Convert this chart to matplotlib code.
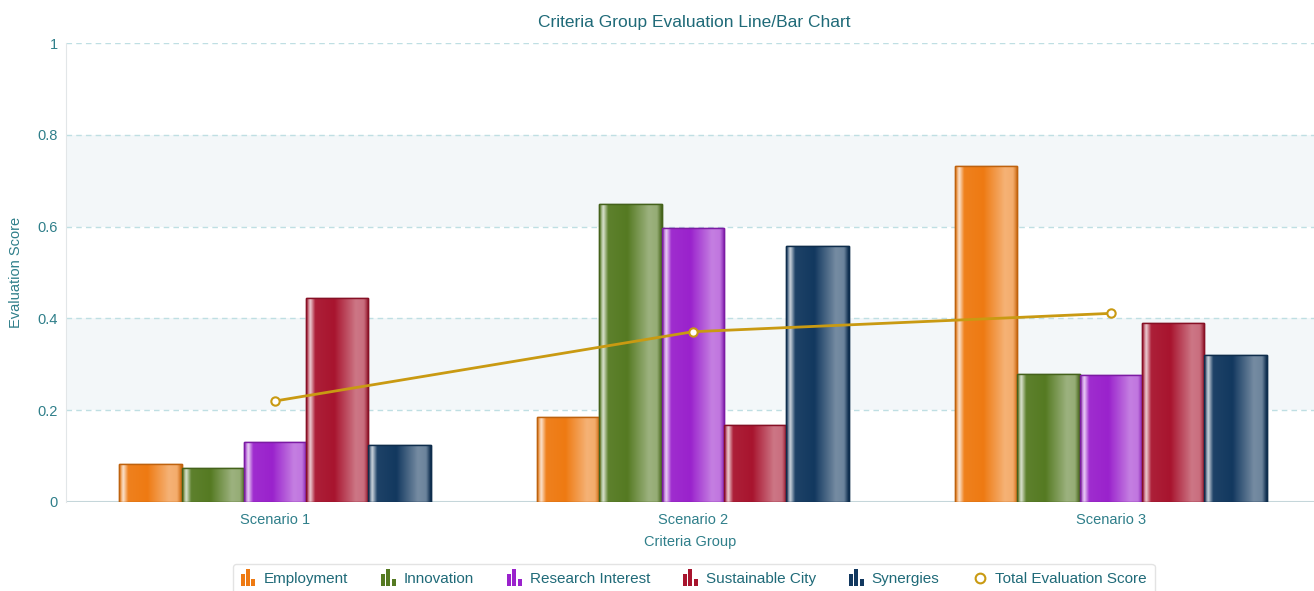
import numpy as np
import matplotlib.pyplot as plt
from matplotlib.colors import LinearSegmentedColormap, to_rgb
from matplotlib.legend_handler import HandlerBase
from matplotlib.patches import Rectangle
from matplotlib.lines import Line2D

plt.rcParams['font.family'] = ['Liberation Sans', 'DejaVu Sans']

scenarios = ["Scenario 1", "Scenario 2", "Scenario 3"]
series = ["Employment", "Innovation", "Research Interest", "Sustainable City", "Synergies"]
employment = [0.083, 0.185, 0.733]
innovation = [0.073, 0.650, 0.279]
research = [0.130, 0.596, 0.277]
sustainable = [0.445, 0.168, 0.389]
synergies = [0.125, 0.558, 0.321]
total_score = [0.220, 0.371, 0.411]
y_ticks = [0, 0.2, 0.4, 0.6, 0.8, 1]
y_labels = ["0", "0.2", "0.4", "0.6", "0.8", "1"]

colors = ["#ee7a12", "#557a22", "#9a22cc", "#a8142e", "#12385f"]
line_color = "#c99a12"
teal = "#2f7f8a"


def shade(c, f):
    r = np.array(to_rgb(c))
    if f > 0:
        return tuple(r + (1 - r) * f)
    return tuple(r * (1 + f))


def bar_cmap(c):
    return LinearSegmentedColormap.from_list("g", [
        (0.0, shade(c, -0.05)),
        (0.06, shade(c, 0.8)),
        (0.14, shade(c, 0.05)),
        (0.45, shade(c, 0.0)),
        (0.8, shade(c, 0.42)),
        (0.93, shade(c, 0.38)),
        (1.0, shade(c, -0.15)),
    ])


class ColumnIcon(HandlerBase):
    # little three-column glyph like the original legend
    def create_artists(self, legend, orig, xd, yd, w, h, fs, trans):
        c = orig.get_facecolor()
        bw = w * 0.27
        gap = w * 0.08
        out = []
        for k, hh in enumerate([0.7, 1.0, 0.45]):
            r = Rectangle((xd + k * (bw + gap), yd - h * 0.3), bw, h * 1.6 * hh,
                          facecolor=c, edgecolor='none', transform=trans)
            out.append(r)
        return out


fig = plt.figure(figsize=(13.14, 5.91), dpi=100)
ax = fig.add_axes([0.0502, 0.1506, 0.9498, 0.7766])

ax.set_xlim(-0.5, 2.486)
ax.set_ylim(0, 1)

# alternating bands
for lo in [0.2, 0.6]:
    ax.axhspan(lo, lo + 0.2, color="#f3f7f9", zorder=0, lw=0)
for t in y_ticks[1:]:
    ax.axhline(t, color="#bfdfe3", lw=1, ls=(0, (4, 3)), zorder=1)
ax.axhline(0, color="#c5d6da", lw=1.5, zorder=1)

x = np.arange(len(scenarios))
width = 0.149
values = [employment, innovation, research, sustainable, synergies]
grad = np.linspace(0, 1, 64).reshape(1, -1)
for i, (name, vals, col) in enumerate(zip(series, values, colors)):
    bars = ax.bar(x + (i - 2) * width, vals, width, color=col, label=name,
                  edgecolor=shade(col, -0.2), linewidth=1, zorder=3)
    for b in bars:
        bx, by = b.get_x(), b.get_y()
        im = ax.imshow(grad, cmap=bar_cmap(col), aspect='auto',
                       extent=[bx, bx + b.get_width(), by, by + b.get_height()],
                       zorder=3.5, interpolation='bicubic')
        im.set_clip_path(b)
        edge = Rectangle((bx, by), b.get_width(), b.get_height(), fill=False,
                         edgecolor=shade(col, -0.2), lw=1, zorder=4)
        ax.add_patch(edge)

ax.plot(x, total_score, color=line_color, lw=2, marker='o', ms=6,
        mfc='white', mec=line_color, mew=1.5, zorder=5, label="Total Evaluation Score")

ax.set_xlim(-0.5, 2.486)
ax.set_ylim(0, 1)
ax.set_xticks(x)
ax.set_xticklabels(scenarios)
ax.set_yticks(y_ticks)
ax.set_yticklabels(y_labels)
ax.tick_params(length=0, colors=teal, labelsize=10.5, pad=8)
ax.tick_params(axis='y', pad=6)

for s in ["top", "right", "bottom"]:
    ax.spines[s].set_visible(False)
ax.spines["left"].set_color("#e2e6e8")

ax.set_xlabel("Criteria Group", color=teal, fontsize=10.5, labelpad=6)
ax.set_ylabel("Evaluation Score", color=teal, fontsize=10.5, labelpad=10)
fig.text(0.528, 0.962, "Criteria Group Evaluation Line/Bar Chart", ha='center',
         va='center', color="#1f6a78", fontsize=12.5)

bar_handles = [Rectangle((0, 0), 1, 1, facecolor=c) for c in colors]
line_handle = Line2D([], [], color=line_color, marker='o', mfc='white',
                     mec=line_color, mew=1.5, ms=7, lw=0)
leg = fig.legend(bar_handles + [line_handle], series + ["Total Evaluation Score"],
                 loc='upper center', bbox_to_anchor=(0.528, 0.058), ncol=6,
                 frameon=True, fontsize=11, handlelength=1.0, handletextpad=0.5,
                 columnspacing=2.15, borderpad=0.5, fancybox=True,
                 handler_map={Rectangle: ColumnIcon()})
leg.get_frame().set_edgecolor("#dddddd")
for t in leg.get_texts():
    t.set_color("#1f6a78")

fig.savefig("out.png", dpi=100)
